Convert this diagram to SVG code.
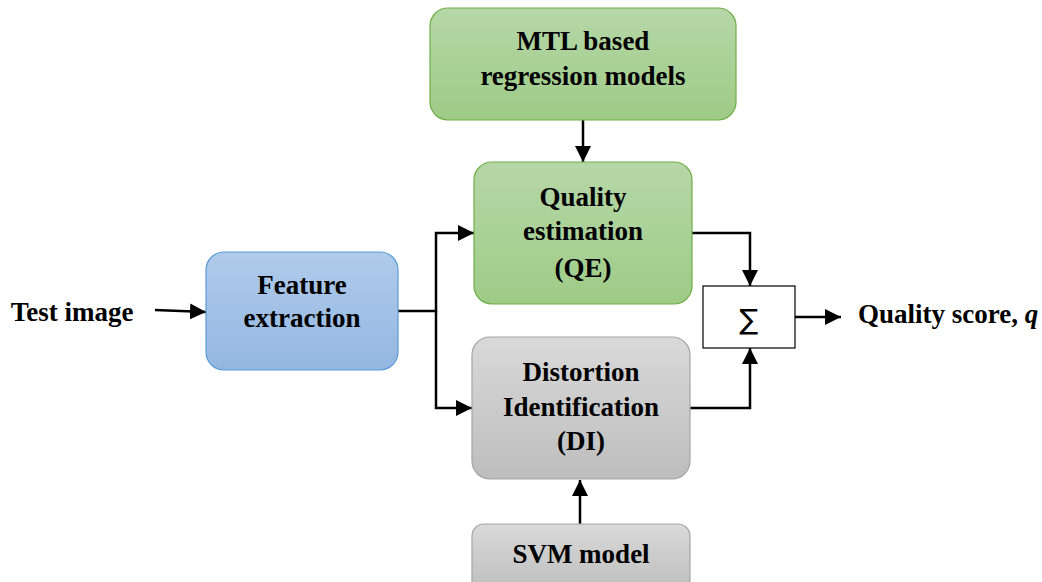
<svg xmlns="http://www.w3.org/2000/svg" width="1042" height="582" viewBox="0 0 1042 582">
  <defs>
    <linearGradient id="gGreen" x1="0" y1="0" x2="0" y2="1">
      <stop offset="0" stop-color="#b6d7a8"/>
      <stop offset="1" stop-color="#9ecb86"/>
    </linearGradient>
    <linearGradient id="gBlue" x1="0" y1="0" x2="0" y2="1">
      <stop offset="0" stop-color="#b0cbea"/>
      <stop offset="1" stop-color="#93b7e2"/>
    </linearGradient>
    <linearGradient id="gGray" x1="0" y1="0" x2="0" y2="1">
      <stop offset="0" stop-color="#d9d9d9"/>
      <stop offset="1" stop-color="#bdbdbd"/>
    </linearGradient>
    <marker id="arrow" viewBox="0 0 10 10" refX="10" refY="5" markerWidth="6.4" markerHeight="6.4" markerUnits="strokeWidth" orient="auto">
      <path d="M0,0 L10,5 L0,10 z" fill="#000"/>
    </marker>
  </defs>
  <style>
    .lbl { font-family: "Liberation Serif", "Times New Roman", serif; font-weight: bold; font-size: 27px; fill: #000; text-anchor: middle; }
    .green { fill: url(#gGreen); stroke: #70ad47; stroke-width: 1.2; }
    .blue { fill: url(#gBlue); stroke: #5b9bd5; stroke-width: 1.2; }
    .gray { fill: url(#gGray); stroke: #a5a5a5; stroke-width: 1.2; }
    .wire { fill: none; stroke: #000; stroke-width: 2.5; }
  </style>
  <rect width="1042" height="582" fill="#fff"/>

  <!-- connectors -->
  <g id="connectors">
    <path class="wire" d="M155,310 L206,312" marker-end="url(#arrow)"/>
    <path class="wire" d="M583,120 L583,162" marker-end="url(#arrow)"/>
    <path class="wire" d="M398,311 L436,311 L436,233 L474,233" marker-end="url(#arrow)"/>
    <path class="wire" d="M436,311 L436,408 L472,408" marker-end="url(#arrow)"/>
    <path class="wire" d="M580,524 L580,480" marker-end="url(#arrow)"/>
    <path class="wire" d="M692,233 L750,233 L750,286" marker-end="url(#arrow)"/>
    <path class="wire" d="M690,408 L750,408 L750,348" marker-end="url(#arrow)"/>
    <path class="wire" d="M795,317 L841,317" marker-end="url(#arrow)"/>
  </g>

  <g id="test-image">
    <text class="lbl" x="72" y="321">Test image</text>
  </g>

  <g id="mtl">
    <rect class="green" x="430" y="8" width="306" height="112" rx="18"/>
    <text class="lbl" x="583" y="50">MTL based</text>
    <text class="lbl" x="583" y="85">regression models</text>
  </g>

  <g id="qe">
    <rect class="green" x="474" y="162" width="218" height="142" rx="18"/>
    <text class="lbl" x="583" y="206">Quality</text>
    <text class="lbl" x="583" y="240">estimation</text>
    <text class="lbl" x="583" y="277">(QE)</text>
  </g>

  <g id="feature">
    <rect class="blue" x="206" y="252" width="192" height="118" rx="18"/>
    <text class="lbl" x="302" y="294">Feature</text>
    <text class="lbl" x="302" y="327">extraction</text>
  </g>

  <g id="di">
    <rect class="gray" x="472" y="337" width="218" height="142" rx="18"/>
    <text class="lbl" x="581" y="381">Distortion</text>
    <text class="lbl" x="581" y="416">Identification</text>
    <text class="lbl" x="581" y="450">(DI)</text>
  </g>

  <g id="svm">
    <rect class="gray" x="472" y="524" width="218" height="70" rx="12"/>
    <text class="lbl" x="581" y="563">SVM model</text>
  </g>

  <g id="sum">
    <rect x="703" y="286" width="92" height="62" fill="#fff" stroke="#000" stroke-width="1.2"/>
    <text x="749" y="329" font-family="DejaVu Sans, sans-serif" font-size="28" text-anchor="middle" fill="#000">∑</text>
  </g>

  <g id="quality-score">
    <text x="858" y="323" font-family="Liberation Serif, 'Times New Roman', serif" font-weight="bold" font-size="27" fill="#000">Quality score, <tspan font-style="italic">q</tspan></text>
  </g>
</svg>
